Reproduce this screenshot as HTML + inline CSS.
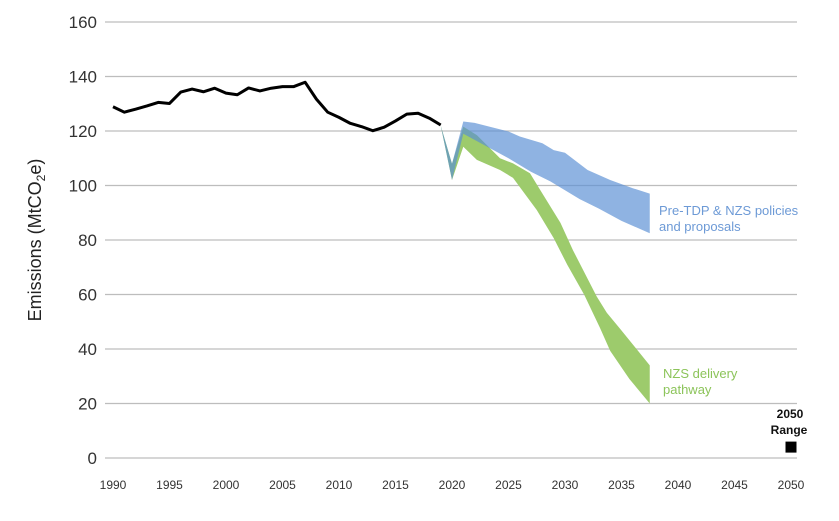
<!DOCTYPE html>
<html><head><meta charset="utf-8"><style>
html,body{margin:0;padding:0;background:#fff;}
svg text{font-family:"Liberation Sans",sans-serif;}
</style></head><body>
<svg id="chart" width="839" height="516" viewBox="0 0 839 516" xmlns="http://www.w3.org/2000/svg">
<g id="grid"></g>
<g id="yticks"></g>
<g id="xticks"></g>
<g id="series"></g>
<text transform="translate(41,240) rotate(-90)" text-anchor="middle" font-size="18" fill="#222">Emissions (MtCO<tspan font-size="12" dy="4">2</tspan><tspan dy="-4">e)</tspan></text>
<text x="659" y="215" font-size="13" fill="#6d9ad6">Pre-TDP &amp; NZS policies</text>
<text x="659" y="231" font-size="13" fill="#6d9ad6">and proposals</text>
<text x="663" y="378" font-size="13" fill="#8cc45a">NZS delivery</text>
<text x="663" y="394" font-size="13" fill="#8cc45a">pathway</text>
<text x="790" y="418" font-size="12" font-weight="bold" text-anchor="middle" fill="#111">2050</text>
<text x="789" y="434" font-size="12" font-weight="bold" text-anchor="middle" fill="#111">Range</text>
</svg>
<script>
const yTicks=[0,20,40,60,80,100,120,140,160];
const xTicks=[1990,1995,2000,2005,2010,2015,2020,2025,2030,2035,2040,2045,2050];
const histYears=[1990,1991,1992,1993,1994,1995,1996,1997,1998,1999,2000,2001,2002,2003,2004,2005,2006,2007,2008,2009,2010,2011,2012,2013,2014,2015,2016,2017,2018,2019];
const histValues=[128.9,126.9,128,129.2,130.5,130.1,134.3,135.4,134.4,135.7,133.9,133.3,135.8,134.7,135.7,136.3,136.3,137.9,131.7,126.9,125,122.8,121.6,120.1,121.4,123.7,126.2,126.5,124.7,122.2];
const blueTopYears=[2019,2020,2021,2022,2025,2026,2028,2029,2030,2032,2034,2036,2037.5];
const blueTopValues=[122,108,123.5,123,119.8,118,115.5,113,112,105.7,102,99,97];
const blueBotYears=[2019,2020,2021,2025,2027,2028.7,2031.3,2033,2035,2037.5];
const blueBotValues=[122,102,119,110,105,101.5,95,91.5,87,82.5];
const greenTopYears=[2019,2020,2021,2022.2,2024.25,2025.4,2026.9,2027.8,2029.6,2030.7,2032.8,2033.7,2034.9,2037.5];
const greenTopValues=[122,108,121.6,118.5,110,108.1,104.5,98.4,86.3,76.3,59.3,53.3,47.3,34];
const greenBotYears=[2019,2020,2021,2022.2,2024.25,2025.4,2027.5,2029,2030.2,2031.7,2033.1,2034,2035.7,2037.5];
const greenBotValues=[122,102,114.2,109.4,105.7,102.8,91,80.7,70.9,59.9,47.7,39.3,29,20];
const rangeYear=[2050];
const rangeValue=[4];

const X=y=>113+(y-1990)*11.3;
const Y=v=>458-v*2.725;
const NS='http://www.w3.org/2000/svg';
function mk(tag,parent,attrs){const e=document.createElementNS(NS,tag);for(const k in attrs)e.setAttribute(k,attrs[k]);parent.appendChild(e);return e;}
const grid=document.getElementById('grid'),yt=document.getElementById('yticks'),xt=document.getElementById('xticks'),ser=document.getElementById('series');
yTicks.forEach(v=>{
  const l=mk('line',grid,{x1:105,x2:797,y1:Y(v),y2:Y(v),stroke:'#bdbdbd','stroke-width':1.2});
  
  
  const t=mk('text',yt,{x:97,y:Y(v)+6,'text-anchor':'end','font-size':17,fill:'#333'});
  t.textContent=v;
  
  
});
xTicks.forEach(y=>{
  const t=mk('text',xt,{x:X(y),y:489,'text-anchor':'middle','font-size':12,fill:'#333'});
  t.textContent=y;
  
  
});
function band(ty,tv,by,bv){
  let d='M'+ty.map((y,i)=>X(y)+','+Y(tv[i])).join('L');
  for(let i=by.length-1;i>=0;i--)d+='L'+X(by[i])+','+Y(bv[i]);
  return d+'Z';
}
const g=mk('path',ser,{d:band(greenTopYears,greenTopValues,greenBotYears,greenBotValues),fill:'#9dcb6c'});


const b=mk('path',ser,{d:band(blueTopYears,blueTopValues,blueBotYears,blueBotValues),fill:'#5a8fd4','fill-opacity':0.68});


const h=mk('polyline',ser,{points:histYears.map((y,i)=>X(y)+','+Y(histValues[i])).join(' '),fill:'none',stroke:'#000','stroke-width':3,'stroke-linejoin':'round'});


rangeYear.forEach((y,i)=>{
  const r=mk('rect',ser,{x:X(y)-5.5,y:Y(rangeValue[i])-5.5,width:11,height:11,fill:'#000'});
  
  
});
</script>
</body></html>
